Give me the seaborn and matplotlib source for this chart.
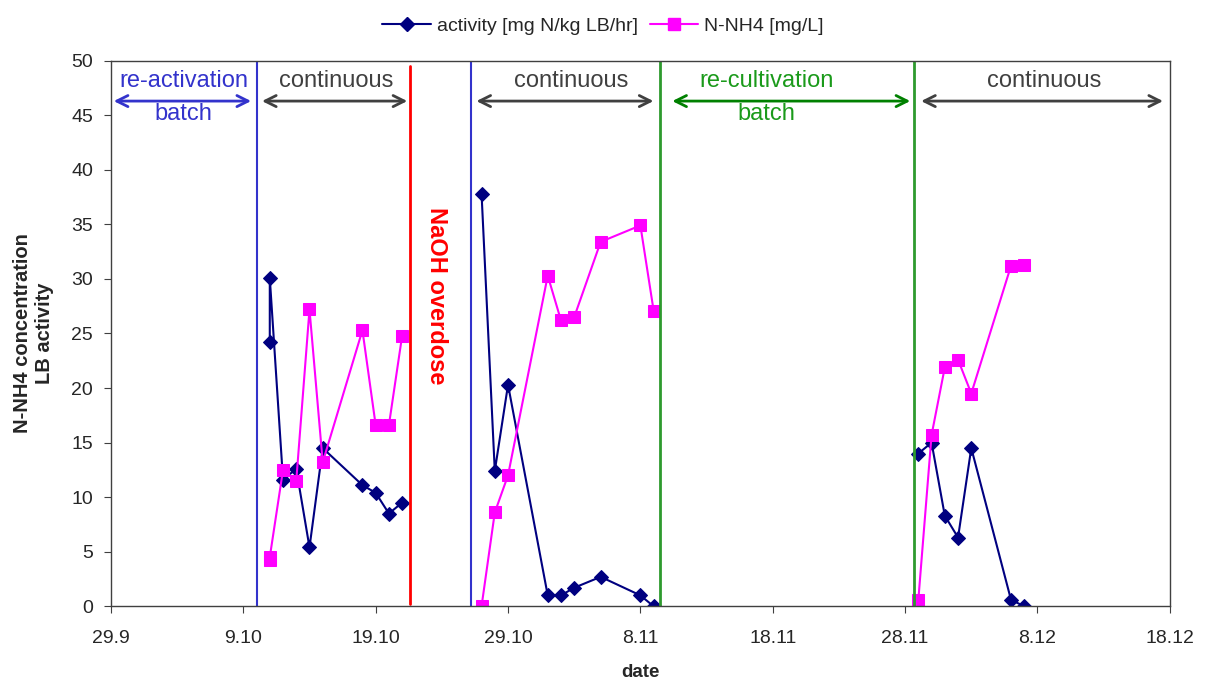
import numpy as np
import pandas as pd
import seaborn as sns
import matplotlib.pyplot as plt
import matplotlib.dates as mdates
from matplotlib.lines import Line2D

sns.set_style("white")
plt.rcParams['font.family'] = ['Liberation Sans', 'DejaVu Sans']

start = pd.Timestamp("2008-09-29")

# days after 29.9, one run per continuous period
act_days = [12, 12, 13, 14, 15, 16, 19, 20, 21, 22,
            28, 29, 30, 33, 34, 35, 37, 40, 41,
            61, 62, 63, 64, 65, 68, 69]
act_vals = [30.1, 24.2, 11.6, 12.6, 5.4, 14.5, 11.1, 10.4, 8.5, 9.5,
            37.8, 12.4, 20.3, 1.0, 1.0, 1.7, 2.7, 1.0, 0.0,
            14.0, 15.0, 8.3, 6.3, 14.5, 0.6, 0.0]
act_run = [1] * 10 + [2] * 9 + [3] * 7

nh4_days = [12, 12, 13, 14, 15, 16, 19, 20, 21, 22,
            28, 29, 30, 33, 34, 35, 37, 40, 41,
            61, 62, 63, 64, 65, 68, 69]
nh4_vals = [4.2, 4.5, 12.5, 11.5, 27.2, 13.2, 25.3, 16.6, 16.6, 24.8,
            0.0, 8.6, 12.0, 30.3, 26.2, 26.5, 33.4, 34.9, 27.1,
            0.6, 15.7, 21.9, 22.6, 19.5, 31.2, 31.3]
nh4_run = [1] * 10 + [2] * 9 + [3] * 7

act = pd.DataFrame({"date": start + pd.to_timedelta(act_days, unit="D"),
                    "value": act_vals, "run": act_run})
nh4 = pd.DataFrame({"date": start + pd.to_timedelta(nh4_days, unit="D"),
                    "value": nh4_vals, "run": nh4_run})

fig = plt.figure(figsize=(12.06, 6.82), dpi=100)
ax = fig.add_axes([0.092, 0.111, 0.878, 0.800])

sns.lineplot(data=act, x="date", y="value", units="run", estimator=None,
             color="#000080", marker="D", markersize=7.5, markeredgecolor="#000080",
             linewidth=1.5, ax=ax)
sns.lineplot(data=nh4, x="date", y="value", units="run", estimator=None,
             color="#ff00ff", marker="s", markersize=8.5, markeredgecolor="#ff00ff",
             linewidth=1.5, ax=ax)

# phase boundaries
def day(d):
    return start + pd.Timedelta(days=d)

ax.plot([day(11.0)] * 2, [0, 50], color="#3333cc", lw=1.5)
ax.plot([day(22.6)] * 2, [0.2, 49.5], color="#ff0000", lw=2)
ax.plot([day(27.2)] * 2, [0, 50], color="#3333cc", lw=1.5)
ax.plot([day(41.5)] * 2, [0, 50], color="#2e9a2e", lw=2)
ax.plot([day(60.7)] * 2, [0, 50], color="#2e9a2e", lw=2)

def span(d0, d1, col):
    ax.annotate("", xy=(day(d1), 46.3), xytext=(day(d0), 46.3),
                arrowprops=dict(arrowstyle="<->", color=col, lw=2,
                                mutation_scale=20))

span(0.0, 10.8, "#3333cc")
span(11.2, 22.6, "#404040")
span(27.4, 41.2, "#404040")
span(42.2, 60.6, "#008000")
span(61.0, 79.7, "#404040")

fs = 17
ax.text(day(5.5), 48.1, "re-activation", color="#3333cc", fontsize=fs, ha="center", va="center")
ax.text(day(5.5), 45.1, "batch", color="#3333cc", fontsize=fs, ha="center", va="center")
ax.text(day(17.0), 48.1, "continuous", color="#404040", fontsize=fs, ha="center", va="center")
ax.text(day(34.8), 48.1, "continuous", color="#404040", fontsize=fs, ha="center", va="center")
ax.text(day(49.5), 48.1, "re-cultivation", color="#1a9a1a", fontsize=fs, ha="center", va="center")
ax.text(day(49.5), 45.1, "batch", color="#1a9a1a", fontsize=fs, ha="center", va="center")
ax.text(day(70.5), 48.1, "continuous", color="#404040", fontsize=fs, ha="center", va="center")
ax.text(day(24.6), 28.5, "NaOH overdose", color="#ff0000", fontsize=fs, fontweight="bold",
        rotation=-90, ha="center", va="center")

ax.set_xlim(day(0), day(80))
ax.set_ylim(0, 50)
ax.set_xticks(pd.date_range(start, periods=9, freq="10D"))
ax.xaxis.set_major_formatter(mdates.DateFormatter("%-d.%-m"))
ax.set_yticks(np.arange(0, 51, 5))
ax.tick_params(axis="both", labelsize=14, direction="out", length=5, bottom=True, left=True,
               color="#404040")
ax.tick_params(axis="x", pad=12)
ax.tick_params(axis="y", pad=8)
for s in ax.spines.values():
    s.set_color("#404040")
    s.set_linewidth(1)

ax.set_xlabel("date", fontsize=13.5, fontweight="bold", labelpad=12)
ax.set_ylabel("N-NH4 concentration\nLB activity", fontsize=14.5, fontweight="bold", labelpad=12)

handles = [Line2D([], [], color="#000080", marker="D", markersize=7.5, lw=1.5),
           Line2D([], [], color="#ff00ff", marker="s", markersize=8.5, lw=1.5)]
fig.legend(handles, ["activity [mg N/kg LB/hr]", "N-NH4 [mg/L]"], loc="upper center",
           bbox_to_anchor=(0.5, 1.0), ncol=2, frameon=False, fontsize=14,
           handlelength=2.5, columnspacing=0.6, handletextpad=0.3)

fig.savefig("out.png", dpi=100)
